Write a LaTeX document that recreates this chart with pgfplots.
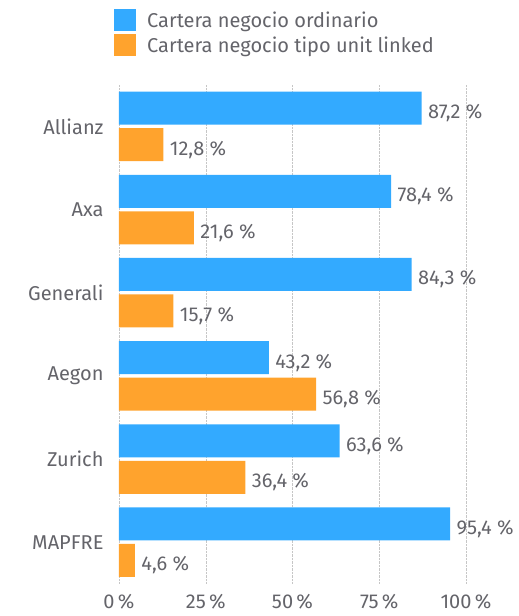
\documentclass[border=0pt]{standalone}
\usepackage{pgfplots}
\pgfplotsset{compat=1.18}
\usepackage{fontspec}
\setmainfont{Fira Sans}
\definecolor{cblue}{RGB}{51,170,255}
\definecolor{corange}{RGB}{255,163,45}
\definecolor{ctext}{RGB}{100,100,106}
\begin{document}
\begin{tikzpicture}
\path[use as bounding box] (-119bp,-32bp) rectangle (400bp,584bp);
\begin{axis}[
  at={(0,0)}, anchor=south west,
  scale only axis, width=347bp, height=499bp,
  xbar, bar width=33bp,
  xmin=0, xmax=100, ymin=-0.5, ymax=5.5, y dir=reverse,
  ytick={0,1,2,3,4,5},
  yticklabels={Allianz,Axa,Generali,Aegon,Zurich,MAPFRE},
  xtick={0,25,50,75,100},
  xticklabels={0\,\%,25\,\%,50\,\%,75\,\%,100\,\%},
  axis line style={draw=none}, major tick length=0pt,
  xmajorgrids, grid style={densely dotted, gray!45},
  tick label style={font=\fontsize{20bp}{22bp}\selectfont, text=ctext},
  yticklabel style={xshift=-12bp},
  xticklabel style={yshift=-7bp},
  nodes near coords={\pgfmathprintnumber[assume math mode=true,use comma,fixed,precision=1,fixed zerofill]{\pgfplotspointmeta}\ \%},
  point meta=x,
  every node near coord/.append style={font=\fontsize{20bp}{22bp}\selectfont, text=ctext, anchor=west, xshift=3bp, yshift=-5bp},
  legend style={draw=none, fill=none, at={(-0.0144,1.152)}, anchor=north west, inner sep=0pt, row sep=3bp,
    font=\fontsize{20bp}{22bp}\selectfont, text=ctext, legend cell align=left, nodes={inner xsep=11bp}},
  legend image code/.code={\fill[#1] (0bp,-11bp) rectangle (22bp,11bp);},
]
\addplot[fill=cblue, draw=none, bar shift=18.5bp] coordinates {(87.2,0) (78.4,1) (84.3,2) (43.2,3) (63.6,4) (95.4,5)};
\addplot[fill=corange, draw=none, bar shift=-18bp] coordinates {(12.8,0) (21.6,1) (15.7,2) (56.8,3) (36.4,4) (4.6,5)};
\legend{Cartera negocio ordinario, Cartera negocio tipo unit linked}
\end{axis}
\end{tikzpicture}
\end{document}
